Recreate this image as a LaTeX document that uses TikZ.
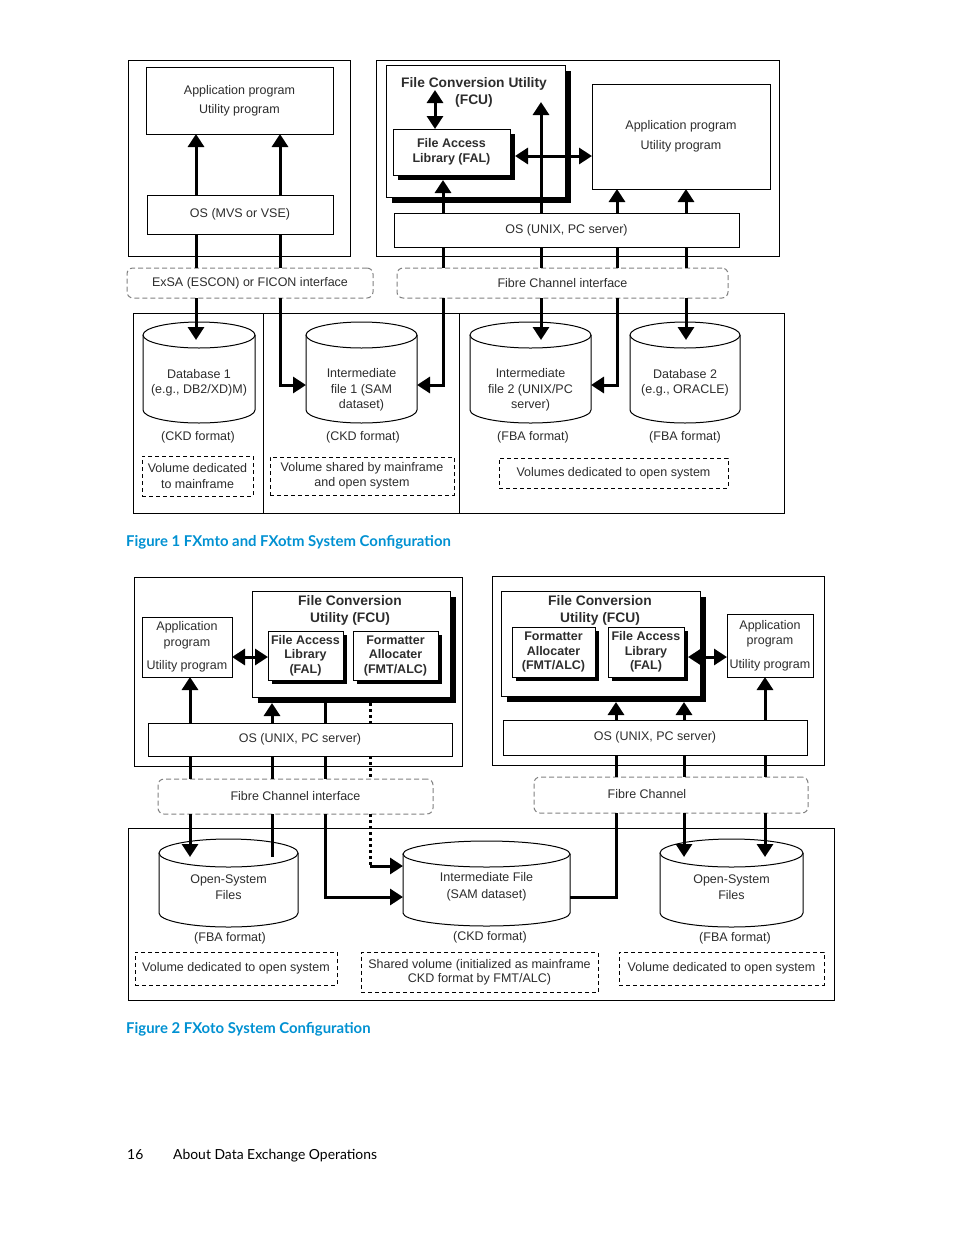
\documentclass[tikz,border=0pt]{standalone}
\usepackage{fontspec}
\setmainfont{Liberation Sans}
\newfontfamily\capfont{Lato}
\usetikzlibrary{arrows.meta,shadows,calc}
\definecolor{txt}{RGB}{45,45,45}
\definecolor{hpblue}{RGB}{0,145,210}
\definecolor{ifgray}{RGB}{130,130,130}
% name, cx, ytop, ybottom, rx, ry, text-y, text
\newcommand\drawcyl[8]{%
  \draw[line width=1pt, fill=white] ({#2-#5},#3) -- ({#2-#5},#4) arc[start angle=180, end angle=0, x radius=#5, y radius=#6] -- ({#2+#5},#3);
  \draw[line width=1pt, fill=white] (#2,#3) ellipse[x radius=#5, y radius=#6];
  \node[cylt, minimum width={2*#5}] (#1) at (#2,#7) {#8};
}
\begin{document}
\begin{tikzpicture}[x=1pt,y=-1pt,
  every node/.style={text=txt, font=\fontsize{12.5}{15.5}\selectfont},
  frame/.style={draw, line width=1pt, inner sep=0pt, outer sep=0pt},
  box/.style={draw, line width=1pt, fill=white, inner sep=0pt, outer sep=0pt, align=center},
  bold/.style={font=\bfseries\fontsize{12.5}{14.5}\selectfont},
  btitle/.style={align=center, inner sep=0pt, font=\bfseries\fontsize{13.8}{17}\selectfont},
  shd/.style={general shadow={fill=black, shadow xshift=#1, shadow yshift=-#1}},
  ifbox/.style={draw=ifgray, line width=1pt, dash pattern=on 5pt off 3pt, rounded corners=6pt, fill=white, inner sep=0pt, outer sep=0pt},
  volbox/.style={draw, line width=1pt, dash pattern=on 4pt off 3pt, fill=white, inner sep=0pt, outer sep=0pt, align=center},
  link/.style={line width=3pt},
  arr/.style={line width=3pt, -{Triangle[width=16pt,length=13pt]}},
  darr/.style={line width=3pt, {Triangle[width=16pt,length=13pt]}-{Triangle[width=16pt,length=13pt]}},
  dotl/.style={line width=3pt, dash pattern=on 3pt off 3pt},
  cylt/.style={inner sep=0pt, outer sep=0pt, align=center},
  lbl/.style={inner sep=0pt},
  captext/.style={inner sep=0pt, text=hpblue, font=\capfont\bfseries\fontsize{14.9}{17}\selectfont},
  foottext/.style={inner sep=0pt, text=black, font=\capfont\fontsize{13.9}{16}\selectfont},
]
\useasboundingbox (0,0) rectangle (954,1235);
\fill[white] (0,0) rectangle (954,1235);

%%%%%%%%%%%%%%%% FIGURE 1 %%%%%%%%%%%%%%%%
\node[frame, minimum width=222pt, minimum height=196pt] (frL) at (239,158) {};
\node[frame, minimum width=403pt, minimum height=196pt] (frR) at (577.5,158) {};
\node[box, minimum width=187pt, minimum height=67pt] (appL) at (239.5,100.5) {Application program\\[3.5pt]Utility program};
\node[box, minimum width=186pt, minimum height=39pt] (osL) at (240,214.5) {OS (MVS or VSE)};
\node[box, shd=6pt, minimum width=179pt, minimum height=132pt] (fcu1) at (475.5,131) {};
\node[btitle] (fcu1t) at (474,92) {File Conversion Utility\\(FCU)};
\node[box, bold, shd=5pt, minimum width=117pt, minimum height=46pt] (fal1) at (451.5,152) {File Access\\Library (FAL)};
\node[box, minimum width=178pt, minimum height=105pt] (appR) at (681,136.5) {Application program\\[4.5pt]Utility program};
\node[box, minimum width=345pt, minimum height=34pt] (osR) at (566.5,230) {OS (UNIX, PC server)};
\node[ifbox, minimum width=246pt, minimum height=30pt] (ifL) at (250,283) {ExSA (ESCON) or FICON interface};
\node[ifbox, minimum width=331pt, minimum height=30pt] (ifR) at (562.5,283) {Fibre Channel interface};

\node[frame, minimum width=651pt, minimum height=200pt] (st1) at (458.5,413) {};
\coordinate (d1) at (263,313);
\coordinate (d2) at (459,313);
\draw[line width=1pt] (d1) -- (d1 |- st1.south);
\draw[line width=1pt] (d2) -- (d2 |- st1.south);

\drawcyl{db1}{199}{335}{410}{56}{13}{383}{Database 1\\(e.g., DB2/XD)M)}
\drawcyl{int1}{361.5}{335}{410}{55.5}{13}{390}{Intermediate\\file 1 (SAM\\dataset)}
\drawcyl{int2}{530.5}{335}{410}{60.5}{13}{390}{Intermediate\\file 2 (UNIX/PC\\server)}
\drawcyl{db2}{685}{335}{410}{55}{13}{383}{Database 2\\(e.g., ORACLE)}

\node[lbl] (fm1) at (198,437) {(CKD format)};
\node[lbl] (fm2) at (363,437) {(CKD format)};
\node[lbl] (fm3) at (533,437) {(FBA format)};
\node[lbl] (fm4) at (685,437) {(FBA format)};

\node[volbox, minimum width=111pt, minimum height=40pt] (v1) at (197.5,476) {Volume dedicated\\to mainframe};
\node[volbox, minimum width=184pt, minimum height=38pt] (v2) at (362,476) {Volume shared by mainframe\\and open system};
\node[volbox, minimum width=229pt, minimum height=30pt] (v3) at (613.5,473) {Volumes dedicated to open system};

\coordinate (p1) at (196,340);
\coordinate (p2) at (280,385);
\coordinate (p3) at (443,385);
\coordinate (p4) at (541,340);
\coordinate (p5) at (617,385);
\coordinate (p6) at (686,340);
\coordinate (q1) at (435,90);
\coordinate (q2) at (541,102);
\coordinate (q3) at (515,156);

\draw[arr] (osL.north -| p1) -- (appL.south -| p1);
\draw[arr] (osL.north -| p2) -- (appL.south -| p2);
\draw[darr] (q1) -- (fal1.north -| q1);
\draw[arr] (osR.north -| p3) -- ($(fal1.south -| p3)+(0,5)$);
\draw[arr] (osR.north -| q2) -- (q2);
\draw[darr] (q3) -- (appR.west |- q3);
\draw[arr] (osR.north -| p5) -- (appR.south -| p5);
\draw[arr] (osR.north -| p6) -- (appR.south -| p6);

\draw[link] (osL.south -| p1) -- (ifL.north -| p1);
\draw[arr] (ifL.south -| p1) -- (p1);
\draw[link] (osL.south -| p2) -- (ifL.north -| p2);
\draw[arr] (ifL.south -| p2) -- (p2) -- (int1.west |- p2);
\draw[link] (osR.south -| p3) -- (ifR.north -| p3);
\draw[arr] (ifR.south -| p3) -- (p3) -- (int1.east |- p3);
\draw[link] (osR.south -| p4) -- (ifR.north -| p4);
\draw[arr] (ifR.south -| p4) -- (p4);
\draw[link] (osR.south -| p5) -- (ifR.north -| p5);
\draw[arr] (ifR.south -| p5) -- (p5) -- (int2.east |- p5);
\draw[link] (osR.south -| p6) -- (ifR.north -| p6);
\draw[arr] (ifR.south -| p6) -- (p6);

\node[captext, anchor=base west] (cap1) at (126,546) {Figure 1 FXmto and FXotm System Configuration};

%%%%%%%%%%%%%%%% FIGURE 2 %%%%%%%%%%%%%%%%
\node[frame, minimum width=328pt, minimum height=189pt] (fr2L) at (298,671.5) {};
\node[frame, minimum width=332pt, minimum height=189pt] (fr2R) at (658,670.5) {};

\node[box, minimum width=90pt, minimum height=60pt] (app2L) at (187,647) {Application\\program\\[8pt]Utility program};
\node[box, shd=6pt, minimum width=198pt, minimum height=106pt] (fcu2L) at (351,644) {};
\node[btitle] (fcu2Lt) at (350,610.5) {File Conversion\\Utility (FCU)};
\node[box, bold, shd=4pt, minimum width=75pt, minimum height=49pt] (fal2L) at (305.5,655.5) {File Access\\Library\\(FAL)};
\node[box, bold, shd=4pt, minimum width=85pt, minimum height=49pt] (fmt2L) at (395.5,655.5) {Formatter\\Allocater\\(FMT/ALC)};
\node[box, minimum width=304pt, minimum height=33pt] (os2L) at (300,739.5) {OS (UNIX, PC server)};
\node[ifbox, minimum width=275pt, minimum height=35pt] (if2L) at (295.5,796.5) {Fibre Channel interface};

\node[box, shd=6pt, minimum width=199pt, minimum height=105pt] (fcu2R) at (600.5,643.5) {};
\node[btitle] (fcu2Rt) at (600,610.5) {File Conversion\\Utility (FCU)};
\node[box, bold, shd=4pt, minimum width=83pt, minimum height=50pt] (fmt2R) at (553.5,652) {Formatter\\Allocater\\(FMT/ALC)};
\node[box, bold, shd=4pt, minimum width=76pt, minimum height=50pt] (fal2R) at (646,652) {File Access\\Library\\(FAL)};
\node[box, minimum width=86pt, minimum height=63pt] (app2R) at (770,645.5) {Application\\program\\[8pt]Utility program};
\node[box, minimum width=304pt, minimum height=35pt] (os2R) at (655,737.5) {OS (UNIX, PC server)};
\node[ifbox, minimum width=274pt, minimum height=36pt] (if2R) at (671,795) {};
\node[lbl] (if2Rt) at (647,794) {Fibre Channel};

\node[frame, minimum width=706pt, minimum height=172pt] (st2) at (481,914) {};
\drawcyl{osf1}{228.5}{853}{913}{69.5}{14}{887}{Open-System\\Files}
\drawcyl{int3}{486.5}{854}{913}{83.5}{13}{887}{Intermediate File\\[1pt](SAM dataset)}
\drawcyl{osf2}{731.5}{853}{913}{71.5}{14}{887}{Open-System\\Files}

\node[lbl] (fm5) at (230,938) {(FBA format)};
\node[lbl] (fm6) at (490,937) {(CKD format)};
\node[lbl] (fm7) at (735,938) {(FBA format)};

\node[volbox, minimum width=202pt, minimum height=33pt] (v4) at (236,968.5) {Volume dedicated to open system};
\node[volbox, minimum width=237pt, minimum height=40pt, font=\fontsize{12.5}{14}\selectfont] (v5) at (479.5,972.5) {Shared volume (initialized as mainframe\\CKD format by FMT/ALC)};
\node[volbox, minimum width=205pt, minimum height=33pt] (v6) at (721.5,968.5) {Volume dedicated to open system};

\coordinate (r1) at (190,857);
\coordinate (r2) at (272,857);
\coordinate (r3) at (325,897);
\coordinate (r4) at (370,866);
\coordinate (r5) at (616,897);
\coordinate (r6) at (684,857);
\coordinate (r7) at (765,857);
\coordinate (s1) at (250,657);
\coordinate (s2) at (707,657);

\draw[darr] (app2L.east |- s1) -- (fal2L.west |- s1);
\draw[arr] (os2L.north -| r1) -- (app2L.south -| r1);
\draw[arr] (os2L.north -| r2) -- ($(fcu2L.south -| r2)+(0,6)$);
\draw[link] (fcu2L.south -| r3) -- (os2L.north -| r3);
\draw[dotl] ($(fcu2L.south -| r4)+(0,6)$) -- (os2L.north -| r4);

\draw[link] (os2L.south -| r1) -- (if2L.north -| r1);
\draw[arr] (if2L.south -| r1) -- (r1);
\draw[link] (os2L.south -| r2) -- (if2L.north -| r2);
\draw[link] (if2L.south -| r2) -- (r2);
\draw[link] (os2L.south -| r3) -- (if2L.north -| r3);
\draw[arr] (if2L.south -| r3) -- (r3) -- (int3.west |- r3);
\draw[dotl] (os2L.south -| r4) -- (if2L.north -| r4);
\draw[dotl] (if2L.south -| r4) -- (r4);
\draw[arr] (r4) -- (int3.west |- r4);

\draw[darr] ($(fal2R.east |- s2)+(4,0)$) -- (app2R.west |- s2);
\draw[arr] (os2R.north -| r5) -- ($(fcu2R.south -| r5)+(0,6)$);
\draw[arr] (os2R.north -| r6) -- ($(fcu2R.south -| r6)+(0,6)$);
\draw[arr] (os2R.north -| r7) -- (app2R.south -| r7);

\draw[link] (os2R.south -| r5) -- (if2R.north -| r5);
\draw[link] (if2R.south -| r5) -- (r5) -- (int3.east |- r5);
\draw[link] (os2R.south -| r6) -- (if2R.north -| r6);
\draw[arr] (if2R.south -| r6) -- (r6);
\draw[link] (os2R.south -| r7) -- (if2R.north -| r7);
\draw[arr] (if2R.south -| r7) -- (r7);

\node[captext, anchor=base west] (cap2) at (126,1033) {Figure 2 FXoto System Configuration};

%%%%%%%%%%%%%%%% FOOTER %%%%%%%%%%%%%%%%
\node[foottext, anchor=base west] (pg) at (127,1159) {16};
\node[foottext, anchor=base west] (ft) at (173,1159) {About Data Exchange Operations};
\end{tikzpicture}
\end{document}
